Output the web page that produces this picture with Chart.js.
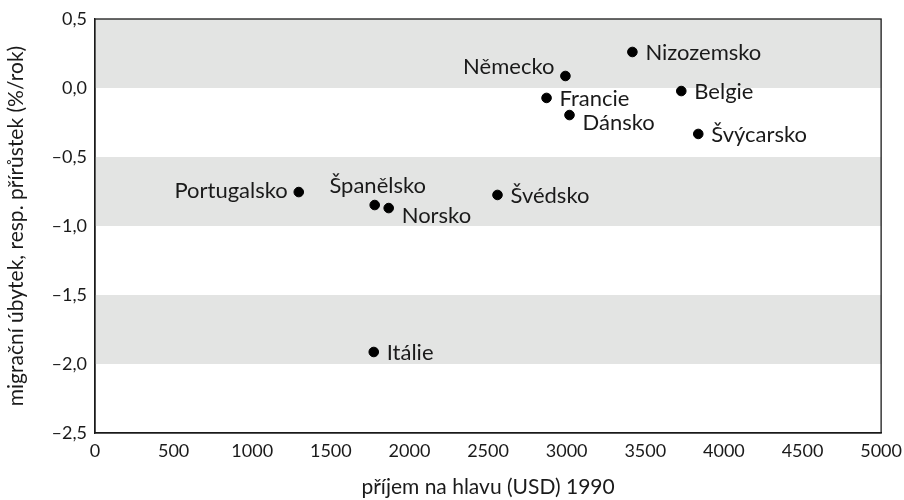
<!DOCTYPE html>
<html>
<head>
<meta charset="utf-8">
<script src="https://cdn.jsdelivr.net/npm/chart.js@4/dist/chart.umd.min.js"></script>
<style>
  html, body { margin: 0; padding: 0; background: #fff; }
  #wrap { width: 904px; height: 500px; }
</style>
</head>
<body>
<div id="wrap"><canvas id="chart"></canvas></div>
<script>
const countries = ['Portugalsko', 'Španělsko', 'Norsko', 'Švédsko', 'Itálie', 'Německo', 'Francie', 'Dánsko', 'Nizozemsko', 'Belgie', 'Švýcarsko'];
const income = [1296, 1779, 1868, 2560, 1773, 2992, 2872, 3018, 3418, 3729, 3837];
const migration = [-0.754, -0.848, -0.87, -0.775, -1.913, 0.087, -0.072, -0.196, 0.261, -0.022, -0.333];
const bands = [[0, 0.5], [-1, -0.5], [-2, -1.5]];

// where each label sits relative to its point
const labelSide = {
  'Portugalsko': 'left', 'Španělsko': 'above', 'Norsko': 'belowRight', 'Švédsko': 'right',
  'Itálie': 'right', 'Německo': 'aboveLeft', 'Francie': 'right', 'Dánsko': 'belowRight',
  'Nizozemsko': 'right', 'Belgie': 'right', 'Švýcarsko': 'right',
};

const FONT = 'Lato, "Open Sans", sans-serif';
const INK = '#1a1a1a';

const fmt = v => (v < 0 ? '\u2013' : '') + Math.abs(v).toFixed(1).replace('.', ',');

const bandsPlugin = {
  id: 'bands',
  beforeDatasetsDraw(chart) {
    const { ctx, chartArea: a, scales: { y } } = chart;
    ctx.save();
    ctx.fillStyle = '#e3e4e3';
    bands.forEach(([lo, hi]) => {
      const top = y.getPixelForValue(hi);
      const bot = y.getPixelForValue(lo);
      ctx.fillRect(a.left, top, a.right - a.left, bot - top);
    });
    ctx.restore();
  },
  afterDatasetsDraw(chart) {
    const { ctx, chartArea: a } = chart;
    ctx.save();
    ctx.strokeStyle = INK;
    ctx.lineWidth = 1.3;
    ctx.strokeRect(a.left, a.top, a.right - a.left, a.bottom - a.top);
    ctx.restore();
  },
};

const labelsPlugin = {
  id: 'pointLabels',
  afterDatasetsDraw(chart) {
    const { ctx } = chart;
    const meta = chart.getDatasetMeta(0);
    ctx.save();
    ctx.font = '22px ' + FONT;
    ctx.fillStyle = INK;
    ctx.textBaseline = 'middle';
    meta.data.forEach((pt, i) => {
      const side = labelSide[countries[i]];
      let x = pt.x, y = pt.y;
      if (side === 'left') { ctx.textAlign = 'right'; x -= 11; y -= 1; }
      else if (side === 'right') { ctx.textAlign = 'left'; x += 13; y += 1; }
      else if (side === 'above') { ctx.textAlign = 'center'; x += 3; y -= 19; }
      else if (side === 'belowRight') { ctx.textAlign = 'left'; x += 13; y += 8; }
      else if (side === 'aboveLeft') { ctx.textAlign = 'right'; x -= 11; y -= 9; }
      ctx.fillText(countries[i], x, y);
    });
    ctx.restore();
  },
};

new Chart(document.getElementById('chart'), {
  type: 'scatter',
  data: {
    datasets: [{
      data: income.map((x, i) => ({ x, y: migration[i] })),
      backgroundColor: '#000',
      borderColor: '#000',
      pointRadius: 4.8,
      pointHoverRadius: 4.8,
    }],
  },
  options: {
    responsive: true,
    maintainAspectRatio: false,
    animation: false,
    layout: { padding: { left: 0, top: 19, right: 22, bottom: 0 } },
    plugins: { legend: { display: false }, tooltip: { enabled: false } },
    scales: {
      x: {
        min: 0, max: 5000,
        afterFit: s => { s.height = 67; },
        grid: { display: false, drawTicks: true, tickLength: 5, tickColor: INK },
        border: { color: INK, width: 1.3 },
        ticks: { stepSize: 500, color: INK, font: { family: FONT, size: 18 }, padding: 2, maxRotation: 0, callback: v => String(v) },
        title: { display: true, text: 'příjem na hlavu (USD) 1990', color: INK, font: { family: FONT, size: 21 }, padding: { top: 12, bottom: 0 } },
      },
      y: {
        min: -2.5, max: 0.5,
        afterFit: s => { s.width = 95; },
        grid: { display: false, drawTicks: true, tickLength: 5, tickColor: INK },
        border: { color: INK, width: 1.3 },
        ticks: { stepSize: 0.5, color: INK, font: { family: FONT, size: 18 }, padding: 3, callback: v => fmt(v) },
        title: { display: true, text: 'migrační úbytek, resp. přírůstek (%/rok)', color: INK, font: { family: FONT, size: 21 }, padding: { bottom: 4 } },
      },
    },
  },
  plugins: [bandsPlugin, labelsPlugin],
});
</script>
</body>
</html>
